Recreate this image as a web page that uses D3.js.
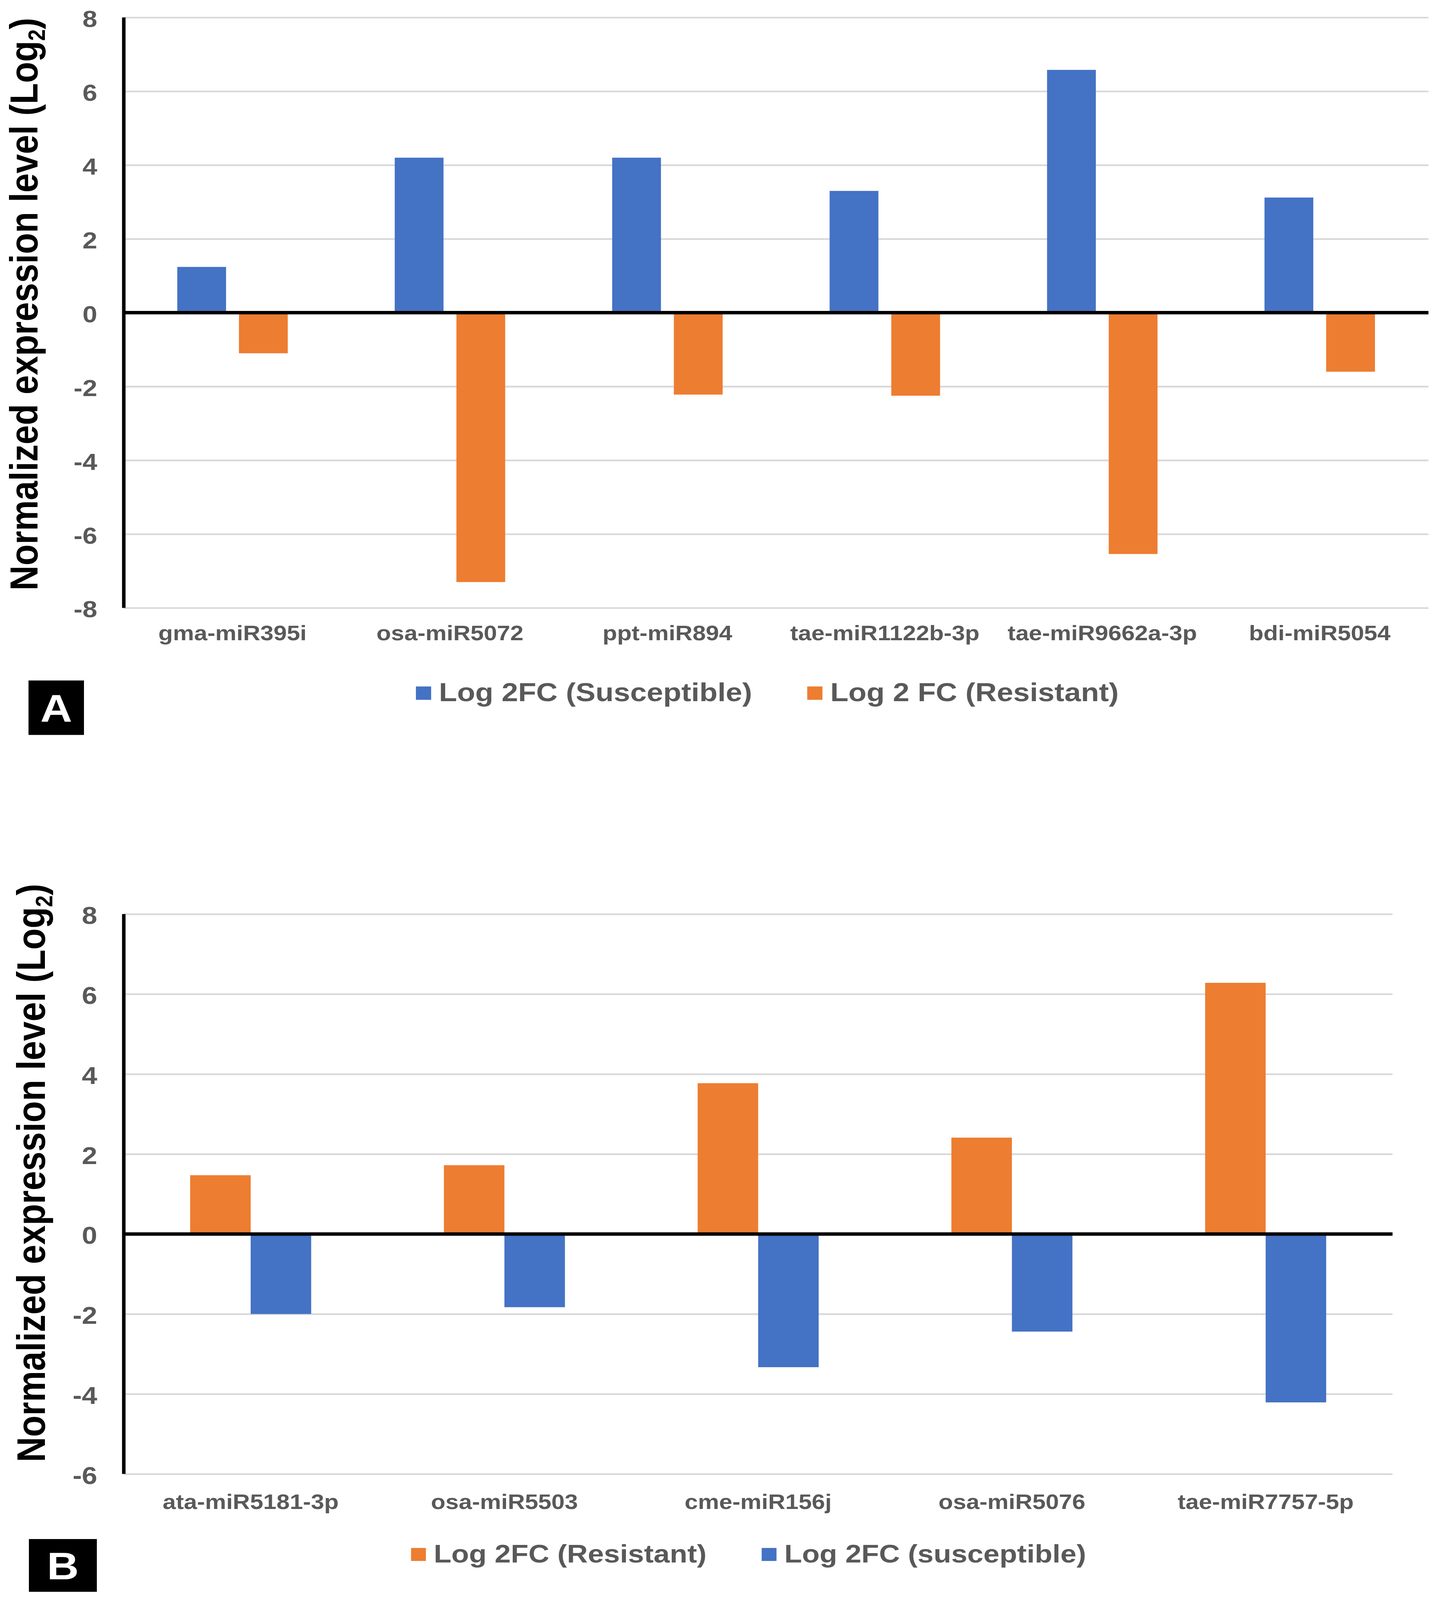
<!DOCTYPE html>
<html>
<head>
<meta charset="utf-8">
<script src="https://cdnjs.cloudflare.com/ajax/libs/d3/7.8.5/d3.min.js"></script>
<style>
  html, body { margin: 0; padding: 0; background: #fff; overflow: hidden; }
  svg { display: block; }
  text { font-family: "Liberation Sans", Arial, Helvetica, sans-serif; font-weight: bold; }
</style>
</head>
<body>
<svg id="fig"></svg>
<script>
// panel A data
var catsA = ["gma-miR395i", "osa-miR5072", "ppt-miR894", "tae-miR1122b-3p", "tae-miR9662a-3p", "bdi-miR5054"];
var suscA = [1.24, 4.2, 4.2, 3.3, 6.58, 3.12];
var resA = [-1.1, -7.3, -2.22, -2.25, -6.54, -1.6];
var ticksA = [-8, -6, -4, -2, 0, 2, 4, 6, 8];

// panel B data
var catsB = ["ata-miR5181-3p", "osa-miR5503", "cme-miR156j", "osa-miR5076", "tae-miR7757-5p"];
var resB = [1.47, 1.72, 3.77, 2.41, 6.28];
var suscB = [-2.0, -1.83, -3.33, -2.44, -4.21];
var ticksB = [-6, -4, -2, 0, 2, 4, 6, 8];

var BLUE = "#4472C4", ORANGE = "#ED7D31", GREY = "#595959";

// drawn in a 3685x4672 space, fitted to whatever the window is
var W = 3685, H = 4672;
var vw = window.innerWidth || W, vh = window.innerHeight || H;
var svg = d3.select("#fig")
  .attr("width", vw).attr("height", vh)
  .attr("viewBox", "0 0 " + W + " " + H)
  .attr("preserveAspectRatio", "none");

function drawPanel(p) {
  var g = svg.append("g");
  var y = d3.scaleLinear()
    .domain([p.ticks[0], p.ticks[p.ticks.length - 1]])
    .range([p.bottom, p.top]);
  var x0 = d3.scaleBand().domain(p.cats).range([p.left, p.right])
    .paddingInner(p.padIn).paddingOuter(p.padOut);
  var x1 = d3.scaleBand().domain(p.series.map(function (s) { return s.name; }))
    .range([0, x0.bandwidth()]).paddingInner(p.barGap);

  // gridlines
  g.append("g")
    .attr("transform", "translate(" + p.left + ",0)")
    .call(d3.axisLeft(y).tickValues(p.ticks).tickSize(-(p.right - p.left)).tickFormat(""))
    .call(function (a) { a.select(".domain").remove(); })
    .selectAll("line").attr("stroke", "#d9d9d9").attr("stroke-width", 5);

  // y tick labels
  var yAx = g.append("g")
    .attr("transform", "translate(" + p.left + ",0)")
    .call(d3.axisLeft(y).tickValues(p.ticks).tickSize(0).tickPadding(68)
      .tickFormat(function (d) { return String(d); }));
  yAx.select(".domain").remove();
  yAx.selectAll("text")
    .attr("dy", "0.4em")
    .style("font-size", p.tickFont + "px")
    .attr("fill", GREY);

  // bars
  p.series.forEach(function (s) {
    g.append("g").selectAll("rect")
      .data(s.values)
      .enter()
      .append("rect")
      .attr("x", function (d, i) { return x0(p.cats[i]) + x1(s.name); })
      .attr("y", function (d) { return y(Math.max(0, d)); })
      .attr("width", x1.bandwidth())
      .attr("height", function (d) { return Math.abs(y(d) - y(0)); })
      .attr("fill", s.color);
  });

  // zero line and y axis line
  g.append("line")
    .attr("x1", p.left).attr("x2", p.right)
    .attr("y1", y(0)).attr("y2", y(0))
    .attr("stroke", "#000").attr("stroke-width", 10);
  g.append("line")
    .attr("x1", p.left).attr("x2", p.left)
    .attr("y1", y(p.ticks[p.ticks.length - 1])).attr("y2", p.bottom)
    .attr("stroke", "#000").attr("stroke-width", 9);

  // category labels
  var xAx = g.append("g")
    .attr("transform", "translate(0," + p.bottom + ")")
    .call(d3.axisBottom(x0).tickSize(0));
  xAx.select(".domain").remove();
  xAx.selectAll("text")
    .attr("y", p.labelOffset).attr("dy", 0)
    .style("font-size", "61px")
    .attr("fill", GREY);

  // y axis title
  var t = g.append("text")
    .attr("transform", "translate(" + p.titleX + "," + p.titleY + ") rotate(-90)")
    .attr("text-anchor", "middle")
    .style("font-size", p.titleFont + "px")
    .attr("fill", "#000");
  t.append("tspan").text("Normalized expression level (Log");
  t.append("tspan").text("2").style("font-size", (p.titleFont * 0.6) + "px").attr("dy", 19);
  t.append("tspan").text(")").attr("dy", -19);

  // legend
  var lg = g.append("g");
  var cx = 0;
  p.series.forEach(function (s, i) {
    if (i > 0) cx += 141;
    lg.append("rect")
      .attr("x", cx).attr("y", p.legendY - p.sq / 2)
      .attr("width", p.sq).attr("height", p.sq)
      .attr("fill", s.color);
    var tx = lg.append("text")
      .attr("x", cx + p.sq + 20).attr("y", p.legendBase)
      .style("font-size", p.legendFont + "px")
      .attr("fill", GREY)
      .text(s.name);
    cx += p.sq + 20 + tx.node().getComputedTextLength();
  });
  lg.attr("transform", "translate(" + (p.legendCenter - cx / 2) + ",0)");

  // panel letter
  g.append("rect")
    .attr("x", p.box[0]).attr("y", p.box[1])
    .attr("width", p.box[2]).attr("height", p.box[3])
    .attr("fill", "#000");
  g.append("text")
    .attr("x", p.box[0] + p.box[2] / 2)
    .attr("y", p.box[1] + p.box[3] / 2 + 40)
    .attr("text-anchor", "middle")
    .style("font-size", "113px")
    .attr("fill", "#fff")
    .text(p.letter);
}

drawPanel({
  cats: catsA, ticks: ticksA,
  series: [
    { name: "Log 2FC (Susceptible)", color: BLUE, values: suscA },
    { name: "Log 2 FC (Resistant)", color: ORANGE, values: resA }
  ],
  left: 317, right: 3658, top: 51, bottom: 1775,
  padIn: 0.492, padOut: 0.246, barGap: 0.209,
  tickFont: 68, labelOffset: 95,
  titleX: 96, titleY: 888, titleFont: 101,
  legendY: 2024, legendBase: 2047, legendFont: 76, sq: 39, legendCenter: 1965,
  box: [73, 1987, 142, 159], letter: "A"
});

drawPanel({
  cats: catsB, ticks: ticksB,
  series: [
    { name: "Log 2FC (Resistant)", color: ORANGE, values: resB },
    { name: "Log 2FC (susceptible)", color: BLUE, values: suscB }
  ],
  left: 317, right: 3566, top: 2669, bottom: 4304,
  padIn: 0.523, padOut: 0.2615, barGap: 0,
  tickFont: 71, labelOffset: 102,
  titleX: 115, titleY: 3425, titleFont: 102,
  legendY: 4539, legendBase: 4563, legendFont: 74, sq: 38, legendCenter: 1917,
  box: [74, 4494, 174, 154], letter: "B"
});
</script>
</body>
</html>
